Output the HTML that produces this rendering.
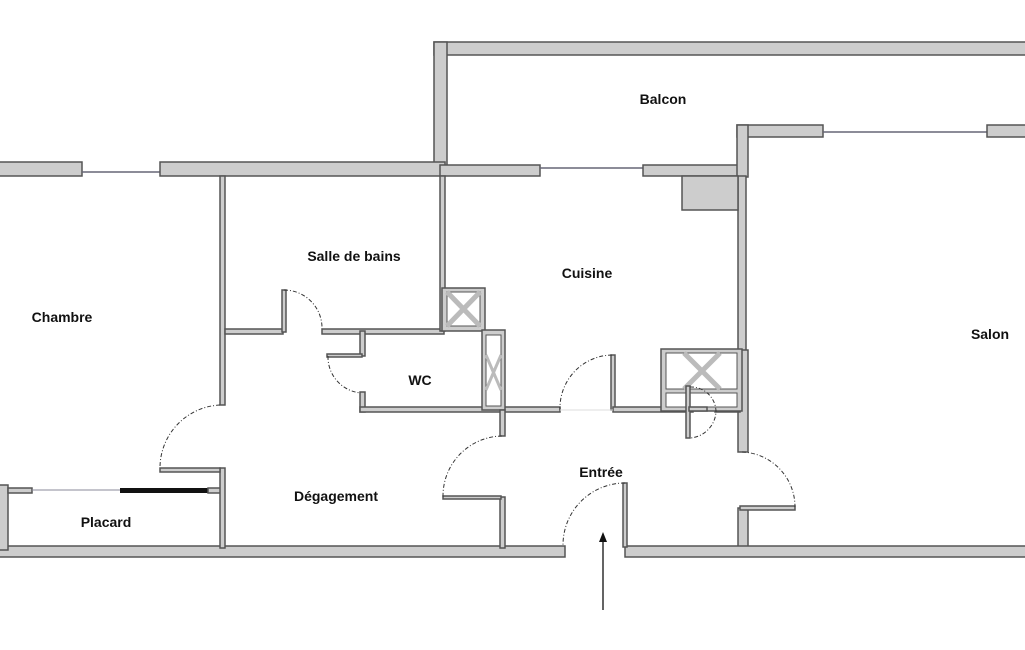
<!DOCTYPE html>
<html><head><meta charset="utf-8"><style>
html,body{margin:0;padding:0;background:#fff;}
svg{display:block}
.w{fill:#cdcdcd;stroke:#555;stroke-width:1.5}
.d{fill:none;stroke:#333;stroke-width:1;stroke-dasharray:4 2 1 2}
.t{font-family:"Liberation Sans",Arial,sans-serif;font-weight:bold;font-size:14px;fill:#111;text-anchor:middle}
</style></head><body>
<svg width="1025" height="650" viewBox="0 0 1025 650" xmlns="http://www.w3.org/2000/svg">
<rect width="1025" height="650" fill="#fff"/>
<rect class="w" x="434" y="42" width="600" height="13"/>
<rect class="w" x="434" y="42" width="13" height="128"/>
<rect class="w" x="-2" y="162" width="84" height="14"/>
<line x1="82" y1="172" x2="160" y2="172" stroke="#667" stroke-width="1.5"/>
<rect class="w" x="160" y="162" width="285" height="14"/>
<rect class="w" x="440" y="165" width="100" height="11"/>
<line x1="540" y1="168" x2="643" y2="168" stroke="#667" stroke-width="1.5"/>
<rect class="w" x="643" y="165" width="100" height="11"/>
<rect class="w" x="737" y="125" width="86" height="12"/>
<line x1="823" y1="132" x2="987" y2="132" stroke="#667" stroke-width="1.5"/>
<rect class="w" x="987" y="125" width="40" height="12"/>
<rect class="w" x="737" y="125" width="11" height="52"/>
<rect class="w" x="738" y="176" width="8" height="176"/>
<rect class="w" x="738" y="350" width="10" height="102"/>
<rect class="w" x="738" y="508" width="10" height="45"/>
<rect class="w" x="682" y="176" width="56" height="34"/>
<rect class="w" x="-2" y="546" width="567" height="11"/>
<rect class="w" x="625" y="546" width="402" height="11"/>
<rect class="w" x="-2" y="485" width="10" height="65"/>
<rect class="w" x="8" y="488" width="24" height="5"/>
<line x1="32" y1="490" x2="120" y2="490" stroke="#889" stroke-width="1"/>
<rect x="120" y="488" width="88" height="5" fill="#111"/>
<rect class="w" x="208" y="488" width="14" height="5"/>
<rect class="w" x="220" y="176" width="5" height="229"/>
<rect class="w" x="220" y="468" width="5" height="80"/>
<rect class="w" x="160" y="468" width="60" height="4"/>
<path class="d" d="M220 405 A63 63 0 0 0 160 468"/>
<rect class="w" x="225" y="329" width="58" height="5"/>
<rect class="w" x="282" y="290" width="4" height="42"/>
<path class="d" d="M284 290 A38 38 0 0 1 322 329"/>
<rect class="w" x="322" y="329" width="122" height="5"/>
<rect class="w" x="440" y="176" width="5" height="155"/>
<rect class="w" x="442" y="288" width="43" height="43"/>
<rect x="447" y="292" width="33" height="34" fill="#fff" stroke="#555"/>
<line x1="447" y1="292" x2="480" y2="326" stroke="#bbb" stroke-width="5"/>
<line x1="480" y1="292" x2="447" y2="326" stroke="#bbb" stroke-width="5"/>
<rect class="w" x="360" y="331" width="5" height="25"/>
<rect class="w" x="327" y="354" width="35" height="3"/>
<path class="d" d="M328 356 A36 36 0 0 0 362 393"/>
<rect class="w" x="360" y="392" width="5" height="20"/>
<rect class="w" x="360" y="407" width="200" height="5"/>
<rect class="w" x="482" y="330" width="23" height="80"/>
<rect x="486" y="335" width="15" height="71" fill="#fff" stroke="#555"/>
<line x1="486" y1="355" x2="501" y2="390" stroke="#bbb" stroke-width="3"/>
<line x1="501" y1="355" x2="486" y2="390" stroke="#bbb" stroke-width="3"/>
<rect class="w" x="611" y="355" width="4" height="55"/>
<path class="d" d="M612 355 A53 53 0 0 0 560 410"/>
<rect class="w" x="613" y="407" width="80" height="5"/>
<rect class="w" x="715" y="407" width="25" height="5"/>
<line x1="560" y1="410" x2="613" y2="410" stroke="#ddd"/>
<rect class="w" x="661" y="349" width="81" height="62"/>
<rect x="666" y="353" width="71" height="36" fill="#fff" stroke="#555"/>
<rect x="666" y="393" width="71" height="14" fill="#fff" stroke="#555"/>
<line x1="684" y1="353" x2="720" y2="389" stroke="#bbb" stroke-width="5"/>
<line x1="720" y1="353" x2="684" y2="389" stroke="#bbb" stroke-width="5"/>
<rect class="w" x="686" y="386" width="4" height="52"/>
<rect class="w" x="689" y="407" width="18" height="4"/>
<path class="d" d="M690 387 A25 25 0 0 1 716 412 A28 28 0 0 1 690 438"/>
<rect class="w" x="500" y="410" width="5" height="26"/>
<rect class="w" x="500" y="497" width="5" height="51"/>
<rect class="w" x="443" y="496" width="58" height="3"/>
<path class="d" d="M502 436 A60 60 0 0 0 443 497"/>
<rect class="w" x="623" y="483" width="4" height="64"/>
<path class="d" d="M625 483 A62 62 0 0 0 563 546"/>
<rect class="w" x="740" y="506" width="55" height="4"/>
<path class="d" d="M742 452 A55 55 0 0 1 795 507"/>
<line x1="603" y1="610" x2="603" y2="540" stroke="#111" stroke-width="1.3"/>
<polygon points="603,532 599,542 607,542" fill="#111"/>
<text class="t" x="663" y="104">Balcon</text>
<text class="t" x="354" y="261">Salle de bains</text>
<text class="t" x="587" y="278">Cuisine</text>
<text class="t" x="62" y="322">Chambre</text>
<text class="t" x="990" y="339">Salon</text>
<text class="t" x="420" y="385">WC</text>
<text class="t" x="601" y="477">Entrée</text>
<text class="t" x="336" y="501">Dégagement</text>
<text class="t" x="106" y="527">Placard</text>
</svg>
</body></html>
